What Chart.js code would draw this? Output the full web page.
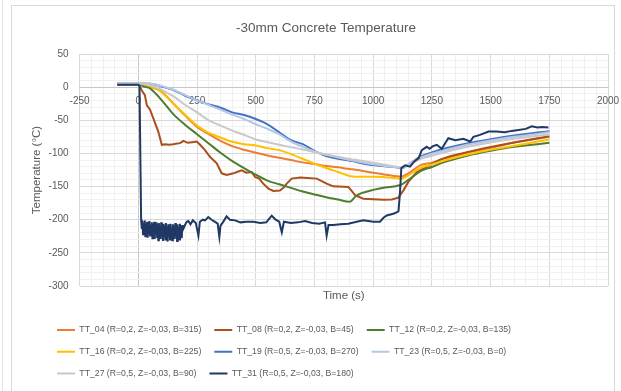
<!DOCTYPE html>
<html>
<head>
<meta charset="utf-8">
<script src="https://cdn.jsdelivr.net/npm/chart.js@4.4.1/dist/chart.umd.min.js"></script>
<style>
  html, body { margin: 0; padding: 0; background: #fff; }
  #wrap { position: relative; width: 621px; height: 391px; overflow: hidden; }
  #pageEdge { position: absolute; left: 2px; top: 0; width: 1px; height: 391px; background: #e3e3e3; }
  #frame { position: absolute; left: 11px; top: 5px; width: 602px; height: 386px; border: 1px solid #d9d9d9; }
  #chart { position: absolute; left: 0; top: 0; }
</style>
</head>
<body>
<div id="wrap">
  <div id="pageEdge"></div>
  <div id="frame"></div>
  <canvas id="chart" width="621" height="391"></canvas>
</div>
<script>
// Shared time base (s) for the smooth thermocouple traces
const times = [-90, 0, 25, 50, 75, 100, 150, 200, 250, 300, 350, 400, 450, 500, 550, 600, 650, 700, 750, 800,
  850, 900, 925, 950, 1000, 1050, 1100, 1120, 1150, 1200, 1250, 1300, 1400, 1500, 1600, 1700, 1750];

const tt04 = [5, 5, 4, 1, -2.5, -7, -25, -43, -60, -71, -81, -89, -94.5, -99, -103, -106.5, -110, -113.5, -116, -119,
  -121, -123.5, -124.5, -126, -129, -132, -134.5, -135, -130, -118, -114, -108, -99, -91.5, -83.5, -78, -75];
const tt12 = [4.5, 4.5, 1, -2, -10, -20, -41, -57, -71, -85, -99, -111.5, -122, -132, -141, -146.5, -152, -157.5, -162, -166,
  -169.5, -173, -165, -160, -155, -151.5, -149, -147, -140, -127, -120.5, -113.5, -103.5, -96, -90, -86, -84];
const tt16 = [5, 5, 4, 1.5, -2, -8, -25, -42, -58, -69, -76, -82.5, -86, -88, -92, -95, -101, -108, -115.5, -122,
  -128, -134, -135, -135, -135, -136, -137.5, -138, -133, -122, -116.5, -111, -102, -94.5, -88.5, -82, -79];
const tt19 = [5.5, 5.5, 5.5, 5, 3.5, 1, -4.5, -13, -20, -26, -31, -38, -42, -48, -56, -68, -80, -86, -96, -104,
  -108, -111, -112.5, -115, -117.5, -119.5, -121, -122.5, -117, -105, -98.5, -93, -85, -78.5, -73, -68.5, -66.5];
const tt23 = [6, 6, 6, 5.5, 4, 1.5, -4, -12, -20, -27, -34, -41.5, -48, -56, -63, -71, -82, -90, -97, -102,
  -106, -110, -111.5, -113.5, -116.5, -119, -121, -122, -116, -106.5, -100.5, -95.5, -87, -80.5, -75, -70.5, -68];
const tt27 = [5, 5, 5, 3, 0, -4, -14, -27, -38, -50, -58, -65.5, -72, -79, -83, -87, -90.5, -94, -98, -101.5,
  -105, -108.5, -109.5, -111, -114, -117, -120, -121, -118, -108.5, -103.5, -98.5, -90, -83.5, -78, -73.5, -71.5];

// TT_08 has its own, denser time base
const times08 = [-90, 0, 5, 15, 28, 36, 50, 64, 85, 100, 115, 130, 149, 165, 178, 192, 210, 230, 249, 263,
  284, 305, 334, 355, 376, 405, 420, 440, 460, 483, 497, 515, 532, 554, 575, 603, 620, 632, 653, 689,
  720, 760, 802, 830, 894, 905, 923, 958, 1000, 1044, 1080, 1107, 1129, 1150, 1186, 1228, 1285, 1328, 1400, 1469,
  1550, 1612, 1700, 1750];
const tt08 = [4.5, 4.5, 2, -5, -12, -27, -34, -47, -67, -87, -86, -87, -86, -85, -84.5, -81, -84, -83, -82, -87,
  -95, -105, -115, -130, -132.5, -130, -128, -125.5, -129, -128, -135.5, -138, -145.6, -153, -156.7, -156, -151, -145.6, -138, -136.5,
  -137, -138, -145.6, -149.6, -150.7, -155, -163, -168.3, -169, -169.8, -169.5, -166.8, -155.7, -143, -128, -120.4, -109.4, -104.3, -98, -92.7,
  -87, -82.6, -77, -74];

// TT_31 sits in the cold jet: fast drop, noisy plateau, sharp recovery
const times31 = [-90, 0, 5, 12,
  15, 17.5, 20, 22.5, 25, 27.5, 30, 32.5, 35, 37.5, 40, 42.5, 45, 47.5, 50, 52.5, 55, 57.5, 60, 62.5,
  65, 67.5, 70, 72.5, 75, 77.5, 80, 82.5, 85, 87.5, 90, 92.5, 95, 97.5, 100, 102.5, 105, 107.5, 110, 112.5,
  115, 117.5, 120, 122.5, 125, 127.5, 130, 132.5, 135, 137.5, 140, 142.5, 145, 147.5, 150, 152.5, 155, 157.5,
  160, 162.5, 165, 167.5, 170, 172.5, 175, 177.5, 180, 182.5, 185, 187.5, 190,
  199, 206, 213, 222, 232, 245, 256, 262, 275, 284, 298, 312, 325, 338, 345, 350, 360, 376, 390, 412,
  435, 460, 490, 520, 545, 568, 585, 600, 611, 620, 650, 680, 710, 740, 770, 795, 802, 810, 830, 860,
  894, 930, 958, 1000, 1029, 1044, 1058, 1086, 1100, 1108, 1114, 1120, 1136, 1157, 1175, 1194, 1207, 1228, 1240, 1255,
  1271, 1292, 1320, 1350, 1384, 1413, 1427, 1455, 1491, 1526, 1560, 1590, 1612, 1650, 1675, 1700, 1720, 1746];
const tt31 = [3.5, 3.5, 2, -200,
  -214, -202, -222, -205, -219, -201, -225, -207, -217, -203, -227, -206, -221, -202, -224, -208, -216, -204, -228, -206,
  -222, -203, -229, -209, -218, -204, -226, -207, -231, -205, -223, -210, -229, -204, -224, -208, -232, -206, -221, -209,
  -230, -205, -226, -211, -233, -207, -223, -210, -230, -206, -225, -212, -231, -207, -224, -209, -229, -205,
  -222, -210, -232, -207, -226, -211, -230, -206, -223, -209, -228, -208, -215,
  -208, -203, -202, -207, -201, -205, -224, -203, -200, -201, -196, -200, -203, -206, -226, -209, -204, -195, -200, -201,
  -204, -203, -203, -205, -204, -194, -200, -203, -219, -203, -205, -204, -202, -205, -206, -204, -224, -208, -208, -207,
  -206, -203, -201, -203, -203, -197, -193.5, -191, -189, -187, -160, -122, -118, -120, -112, -107, -95, -90, -93, -89,
  -87, -93, -77, -80, -78, -82, -75, -72, -67, -67, -68, -66, -65, -63, -59, -61, -60, -61];

const seriesNames = [
  'TT_04 (R=0,2, Z=-0,03, B=315)', 'TT_08 (R=0,2, Z=-0,03, B=45)', 'TT_12 (R=0,2, Z=-0,03, B=135)',
  'TT_16 (R=0,2, Z=-0,03, B=225)', 'TT_19 (R=0,5, Z=-0,03, B=270)', 'TT_23 (R=0,5, Z=-0,03, B=0)',
  'TT_27 (R=0,5, Z=-0,03, B=90)', 'TT_31 (R=0,5, Z=-0,03, B=180)'
];
const seriesColors = ['#ED7D31', '#A9501C', '#4E7D2E', '#FFC000', '#4472C4', '#B4C7E7', '#C8C8C8', '#1F3864'];
const seriesTimes = [times, times08, times, times, times, times, times, times31];
const seriesValues = [tt04, tt08, tt12, tt16, tt19, tt23, tt27, tt31];
const jagged = [false, true, false, false, false, false, false, true];

const xTicks = { min: -250, max: 2000, major: 250, minor: 50 };
const yTicks = { min: -300, max: 50, major: 50, minor: 10 };

const datasets = seriesNames.map((name, i) => ({
  label: name,
  data: seriesTimes[i].map((t, j) => ({ x: t, y: seriesValues[i][j] })),
  borderColor: seriesColors[i],
  backgroundColor: seriesColors[i],
  borderWidth: 2,
  pointRadius: 0,
  fill: false,
  cubicInterpolationMode: jagged[i] ? 'default' : 'monotone',
  tension: 0,
  order: seriesNames.length - i   // later series drawn on top
}));

function gridColor(ctx, major) {
  const v = ctx.tick.value;
  if (v === 0) return '#c6c6c6';
  return v % major === 0 ? '#d9d9d9' : '#f0f0f0';
}

Chart.defaults.font.family = "'Liberation Sans', Arial, sans-serif";
Chart.defaults.color = '#595959';

new Chart(document.getElementById('chart'), {
  type: 'line',
  data: { datasets },
  options: {
    responsive: false,
    animation: false,
    layout: { padding: { top: 6, left: 44, right: 13, bottom: 3.25 } },
    plugins: {
      title: {
        display: true,
        text: '-30mm Concrete Temperature',
        color: '#595959',
        font: { size: 13.5, weight: 'normal' },
        padding: { top: 13.9, bottom: 17.9 }
      },
      legend: {
        position: 'bottom',
        align: 'start',
        labels: {
          usePointStyle: true,
          pointStyle: 'line',
          pointStyleWidth: 18,
          padding: 13,
          color: '#595959',
          font: { size: 8.7 },
          sort: (a, b) => a.datasetIndex - b.datasetIndex
        }
      },
      tooltip: { enabled: false }
    },
    scales: {
      x: {
        type: 'linear',
        position: { y: 0 },
        min: xTicks.min,
        max: xTicks.max,
        ticks: {
          stepSize: xTicks.minor,
          autoSkip: false,
          maxRotation: 0,
          padding: 8,
          font: { size: 10 },
          callback: v => (v % xTicks.major === 0 ? v : '')
        },
        grid: { color: ctx => gridColor(ctx, xTicks.major), drawTicks: false },
        border: { display: true, color: '#c6c6c6' },
        // edge labels may overhang the plot, as they do in the spreadsheet
        afterFit: scale => { scale.paddingLeft = 0; scale.paddingRight = 0; }
      },
      x2: {
        type: 'linear',
        position: 'bottom',
        ticks: { display: false },
        grid: { display: false, drawTicks: false },
        border: { display: false },
        title: { display: true, text: 'Time (s)', font: { size: 11.5 }, padding: { top: 3.1, bottom: 9.75 } }
      },
      y: {
        type: 'linear',
        position: 'left',
        min: yTicks.min,
        max: yTicks.max,
        ticks: {
          stepSize: yTicks.minor,
          autoSkip: false,
          padding: 11,
          font: { size: 10 },
          callback: v => (v % yTicks.major === 0 ? v : '')
        },
        grid: { color: ctx => gridColor(ctx, yTicks.major), drawTicks: false },
        border: { display: false },
        title: { display: true, text: 'Temperature (°C)', font: { size: 11.5 }, padding: { top: -13.9, bottom: 0 } },
        afterFit: scale => { scale.width = 35.6; }
      }
    }
  }
});
</script>
</body>
</html>
